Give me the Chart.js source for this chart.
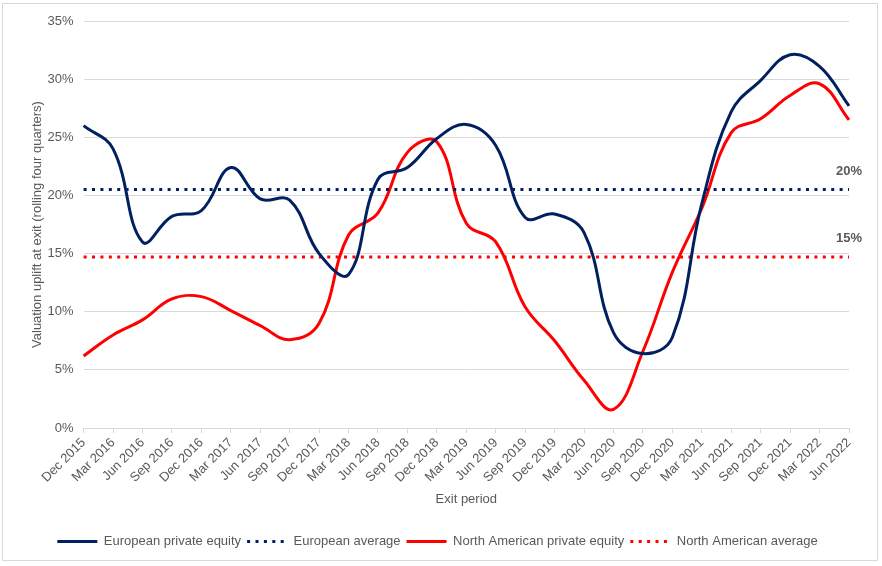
<!DOCTYPE html>
<html>
<head>
<meta charset="utf-8">
<script src="https://cdn.jsdelivr.net/npm/chart.js@4.4.1/dist/chart.umd.min.js"></script>
<style>
  body { margin: 0; background: #fff; }
  #frame { position: absolute; left: 2px; top: 3px; width: 874px; height: 556px; border: 1px solid #d9d9d9; }
  #wrap { position: absolute; left: 0; top: 0; width: 882px; height: 566px; }
</style>
</head>
<body>
<div id="frame"></div>
<div id="wrap"><canvas id="myChart" width="882" height="566"></canvas></div>
<script>
const periods = ['Dec 2015', 'Mar 2016', 'Jun 2016', 'Sep 2016', 'Dec 2016', 'Mar 2017', 'Jun 2017', 'Sep 2017', 'Dec 2017',
    'Mar 2018', 'Jun 2018', 'Sep 2018', 'Dec 2018', 'Mar 2019', 'Jun 2019', 'Sep 2019', 'Dec 2019', 'Mar 2020',
    'Jun 2020', 'Sep 2020', 'Dec 2020', 'Mar 2021', 'Jun 2021', 'Sep 2021', 'Dec 2021', 'Mar 2022', 'Jun 2022'];

const europeanPE = [26.0, 24.0, 16.0, 18.2, 18.7, 22.4, 19.7, 19.6, 15.0,
    13.2, 21.4, 22.4, 24.9, 26.1, 24.3, 18.1, 18.4, 16.8,
    8.2, 6.4, 7.8, 19.3, 27.2, 29.9, 32.1, 31.1, 27.7];

const northAmericanPE = [6.2, 8.0, 9.3, 11.1, 11.3, 10.1, 8.8, 7.6, 9.0,
    16.6, 18.5, 23.7, 24.6, 17.6, 16.0, 10.4, 7.5, 4.1,
    1.6, 6.6, 13.4, 18.9, 25.4, 26.6, 28.6, 29.6, 26.5];

const europeanAverage = 20.5;
const northAmericanAverage = 14.7;
const averageLabels = ['20%', '15%'];

const yTicks = [0, 5, 10, 15, 20, 25, 30, 35];

const navy = '#002060';
const red = '#ff0000';
const grey = '#595959';
const gridGrey = '#d9d9d9';

Chart.defaults.font.family = "'Liberation Sans', Arial, sans-serif";
Chart.defaults.font.size = 13;
Chart.defaults.color = grey;

// bold labels next to the two dotted average lines
const avgLabelPlugin = {
    id: 'avgLabels',
    afterDatasetsDraw(chart) {
        const ctx = chart.ctx;
        const x = chart.scales.x.getPixelForValue(periods.length - 1);
        ctx.save();
        ctx.font = "bold 13px 'Liberation Sans', Arial, sans-serif";
        ctx.fillStyle = grey;
        ctx.textAlign = 'center';
        ctx.textBaseline = 'middle';
        ctx.fillText(averageLabels[0], x, chart.scales.y.getPixelForValue(europeanAverage) - 18);
        ctx.fillText(averageLabels[1], x, chart.scales.y.getPixelForValue(northAmericanAverage) - 19);
        ctx.restore();
    }
};

const first = periods[0];
const last = periods[periods.length - 1];

const ctx = document.getElementById('myChart').getContext('2d');
const myChart = new Chart(ctx, {
    type: 'line',
    data: {
        labels: periods,
        datasets: [{
            label: 'European private equity',
            data: europeanPE,
            borderColor: navy,
            backgroundColor: navy,
            borderWidth: 3,
            tension: 0.4,
            pointRadius: 0,
        },
        {
            label: 'European average',
            data: [{x: first, y: europeanAverage}, {x: last, y: europeanAverage}],
            borderColor: navy,
            backgroundColor: navy,
            borderWidth: 3,
            borderDash: [3, 5.4],
            pointRadius: 0,
        },
        {
            label: 'North American private equity',
            data: northAmericanPE,
            borderColor: red,
            backgroundColor: red,
            borderWidth: 3,
            tension: 0.4,
            pointRadius: 0,
        },
        {
            label: 'North American average',
            data: [{x: first, y: northAmericanAverage}, {x: last, y: northAmericanAverage}],
            borderColor: red,
            backgroundColor: red,
            borderWidth: 3,
            borderDash: [3, 5.4],
            pointRadius: 0,
        }]
    },
    options: {
        responsive: false,
        animation: false,
        layout: {
            padding: { left: 26, right: 33, top: 21, bottom: 8 }
        },
        plugins: {
            legend: {
                position: 'bottom',
                labels: {
                    usePointStyle: true,
                    pointStyle: 'line',
                    pointStyleWidth: 40,
                    padding: 6,
                    color: grey,
                    generateLabels(chart) {
                        const items = Chart.defaults.plugins.legend.labels.generateLabels(chart);
                        items.forEach(item => {
                            const ds = chart.data.datasets[item.datasetIndex];
                            item.lineDash = ds.borderDash || [];
                            item.lineWidth = 3;
                            item.strokeStyle = ds.borderColor;
                        });
                        return items;
                    }
                }
            },
            tooltip: { enabled: false },
        },
        scales: {
            x: {
                grid: {
                    drawOnChartArea: false,
                    drawTicks: true,
                    tickLength: 5,
                    color: gridGrey,
                },
                border: { color: gridGrey },
                ticks: {
                    autoSkip: false,
                    maxRotation: 45,
                    minRotation: 45,
                    padding: 2,
                },
                title: {
                    display: true,
                    text: 'Exit period',
                    padding: { top: 4, bottom: 22 },
                }
            },
            y: {
                min: 0,
                max: 35,
                afterBuildTicks(axis) {
                    axis.ticks = yTicks.map(v => ({ value: v }));
                },
                grid: {
                    color: gridGrey,
                    drawTicks: false,
                },
                border: { display: false },
                ticks: {
                    padding: 10,
                    callback: v => v + '%',
                },
                title: {
                    display: true,
                    text: 'Valuation uplift at exit (rolling four quarters)',
                    padding: { top: 4, bottom: -8 },
                }
            }
        }
    },
    plugins: [avgLabelPlugin]
});
</script>
</body>
</html>
